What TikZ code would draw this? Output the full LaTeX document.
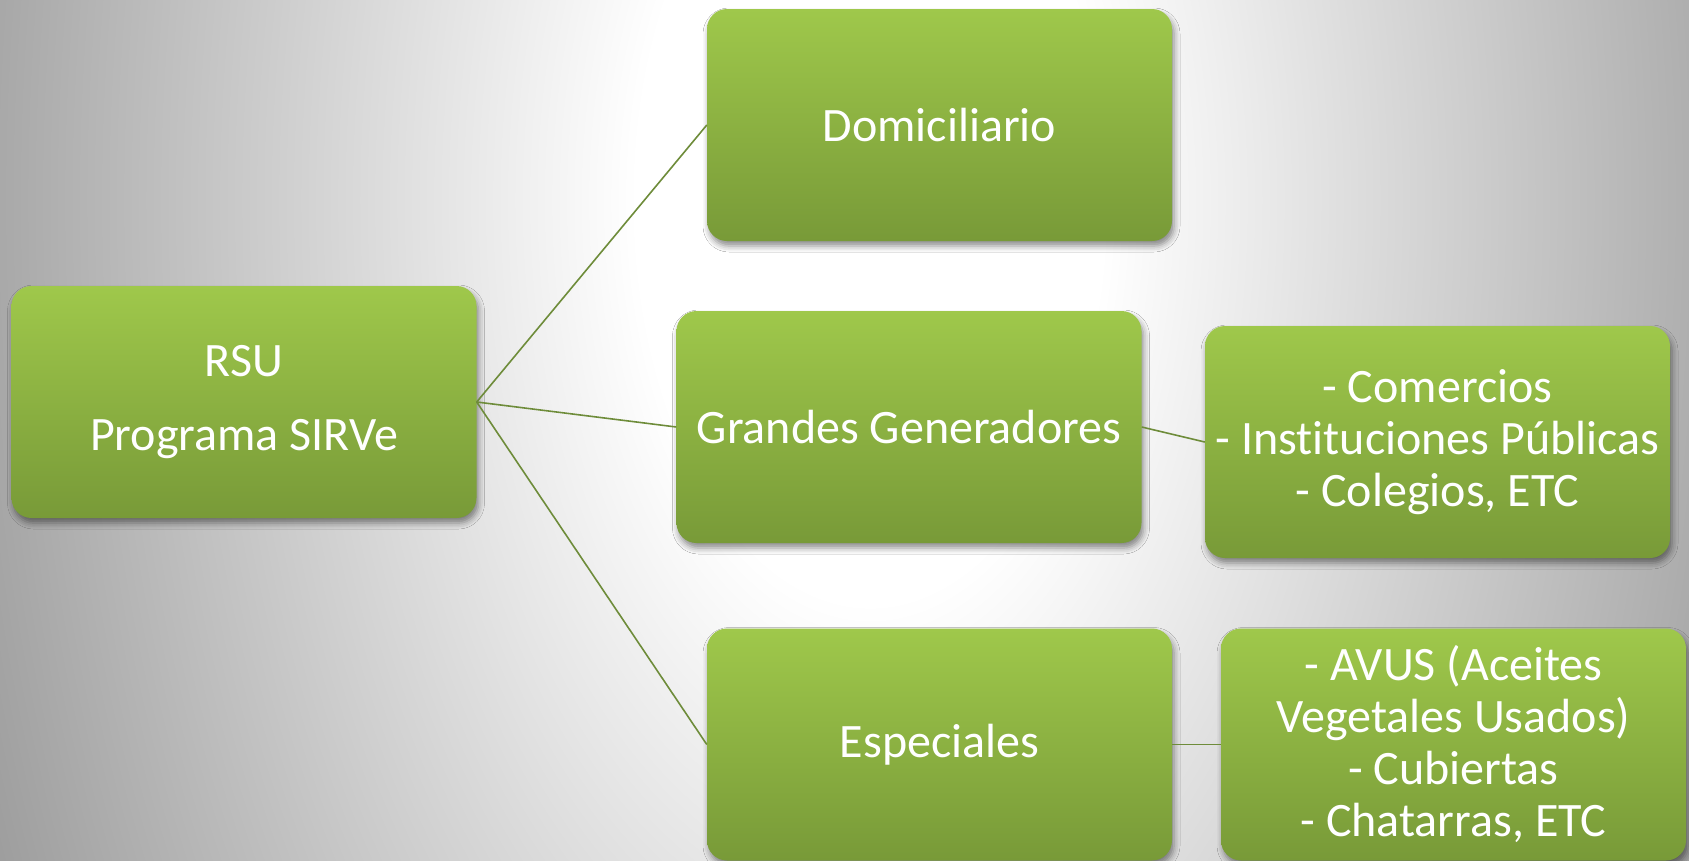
\documentclass[tikz,border=0pt]{standalone}
\usepackage{fontspec}
\setmainfont{Carlito}[RawFeature=-liga]
\usetikzlibrary{shadows.blur}
\definecolor{gtop}{HTML}{9FC84B}
\definecolor{gbot}{HTML}{789A38}
\definecolor{connc}{HTML}{6E8C3A}
\definecolor{bgout}{gray}{0.55}
\definecolor{bgin}{gray}{1.0}
\pgfdeclareradialshading{bgshade}{\pgfpoint{0bp}{0bp}}{color(0bp)=(bgin); color(5.4bp)=(bgin); color(25bp)=(bgout); color(50bp)=(bgout)}
\begin{document}
\begin{tikzpicture}[x=1pt,y=-1pt,
  box/.style={rounded corners=20pt, minimum width=465pt, minimum height=232pt,
    inner sep=0pt, top color=gtop, bottom color=gbot, text=white, align=center,
    blur shadow={shadow xshift=2pt, shadow yshift=-5pt, shadow blur radius=6pt, shadow opacity=45},
    font=\fontsize{48}{58}\selectfont},
  conn/.style={draw=connc, line width=1.6pt}]
\useasboundingbox (0,0) rectangle (1689,860);
\begin{scope}
\clip (0,0) rectangle (1689,860);
\fill[bgout] (0,0) rectangle (1689,860);
\shade[shading=bgshade] (870,200) ellipse[x radius=1080, y radius=1860];
\end{scope}
\node[box, font=\fontsize{48}{74}\selectfont] (rsu) at (244,402) {RSU\\Programa SIRVe};
\node[box] (dom) at (939.5,125) {Domiciliario};
\node[box] (gg) at (909,427) {Grandes Generadores};
\node[box, font=\fontsize{48}{52}\selectfont] (com) at (1437.5,442) {- Comercios\\- Instituciones Públicas\\- Colegios, ETC};
\node[box] (esp) at (939.5,744.5) {Especiales};
\node[box, font=\fontsize{48}{52}\selectfont] (avus) at (1453.5,744.5) {- AVUS (Aceites\\Vegetales Usados)\\- Cubiertas\\- Chatarras, ETC};
\draw[conn] (rsu.east) -- (dom.west);
\draw[conn] (rsu.east) -- (gg.west);
\draw[conn] (rsu.east) -- (esp.west);
\draw[conn] (gg.east) -- (com.west);
\draw[conn] (esp.east) -- (avus.west);
\end{tikzpicture}
\end{document}
